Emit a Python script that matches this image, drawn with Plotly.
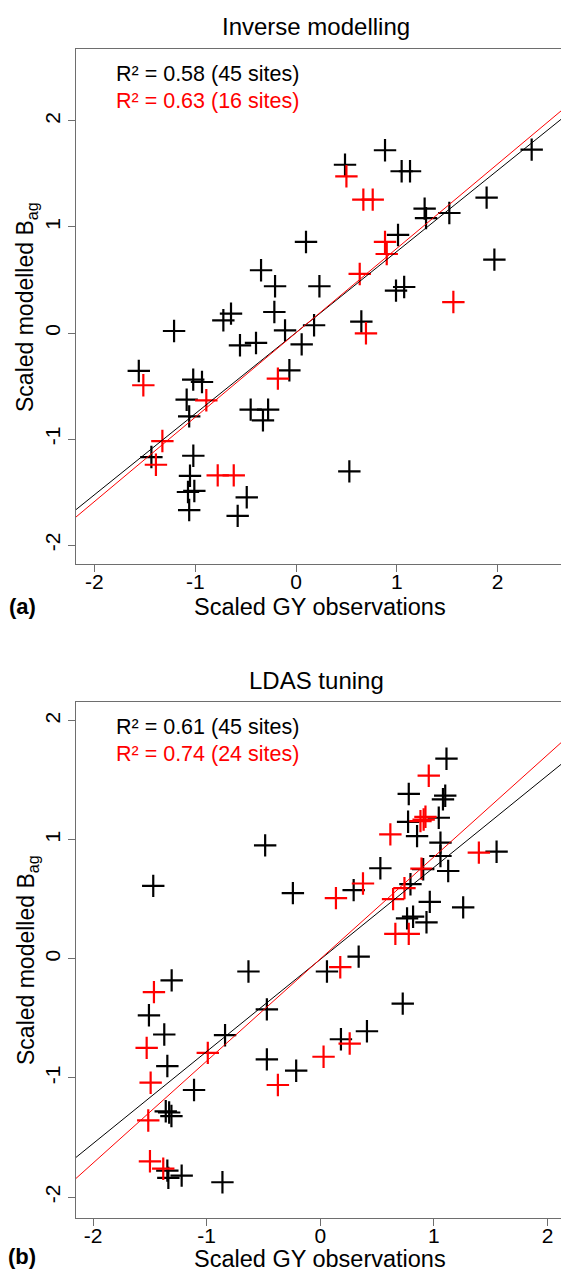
import plotly.graph_objects as go

# ---------------- Panel (a): Inverse modelling ----------------
xa_all = [0.486, 0.883, 1.048, 1.131, 2.338, 1.891, 1.276, 1.290, 1.521, 1.012, 0.099, 1.968,
          -0.347, -0.208, 0.232, 0.992, 1.073, -0.215, -0.645, -0.721, -1.210, -0.109, 0.179, 0.648,
          -0.556, -0.397, 0.056, -1.560, -0.066, -1.020, -0.933, -1.085, -1.060, -0.450, -0.277,
          -0.328, -1.435, -1.019, -1.052, -1.072, -1.009, -1.060, -0.489, -0.579, 0.529]
ya_all = [1.587, 1.724, 1.526, 1.526, 1.730, 1.277, 1.173, 1.084, 1.132, 0.925, 0.859, 0.692,
          0.592, 0.441, 0.441, 0.400, 0.434, 0.198, 0.183, 0.120, 0.019, 0.025, 0.073, 0.108,
          -0.116, -0.094, -0.107, -0.358, -0.352, -0.440, -0.462, -0.629, -0.786, -0.723, -0.723,
          -0.824, -1.170, -1.158, -1.347, -1.500, -1.490, -1.670, -1.550, -1.725, -1.305]
xa_sub = [0.500, 0.668, 0.761, 0.883, 0.900, 0.632, 1.561, 0.694, -1.515, -0.180, -0.890,
          -1.326, -1.390, -0.777, -0.618]
ya_sub = [1.478, 1.258, 1.258, 0.859, 0.745, 0.557, 0.292, -0.003, -0.493, -0.430, -0.635,
          -1.019, -1.243, -1.343, -1.343]
fit_a_all = (0.765, 0.004)   # slope, intercept
fit_a_sub = (0.796, 0.002)
label_a_all = "R² = 0.58 (45 sites)"
label_a_sub = "R² = 0.63 (16 sites)"

# ---------------- Panel (b): LDAS tuning ----------------
xb_all = [1.111, 0.779, 1.080, 1.100, 0.773, 1.043, 0.852, 1.058, 1.058, -0.485, 1.552, 0.529,
          0.906, 1.126, -1.470, 0.794, 0.294, -0.241, 0.964, 1.258, 0.764, 0.817, 0.935, 0.338,
          0.059, -0.632, -1.308, -1.508, -0.470, 0.726, -1.373, -0.838, 0.411, 0.182, -1.346,
          -0.470, -0.212, -1.111, -1.360, -1.330, -1.310, -1.346, -1.337, -1.220, -0.861]
yb_all = [1.681, 1.385, 1.340, 1.370, 1.151, 1.185, 1.031, 0.976, 0.864, 0.953, 0.900, 0.761,
          0.753, 0.738, 0.613, 0.627, 0.577, 0.552, 0.479, 0.432, 0.340, 0.354, 0.307, 0.019,
          -0.106, -0.106, -0.181, -0.474, -0.424, -0.376, -0.635, -0.641, -0.608, -0.675, -0.900,
          -0.844, -0.939, -1.101, -1.280, -1.290, -1.320, -1.778, -1.839, -1.820, -1.876]
xb_sub = [0.955, 0.926, 0.882, 0.910, 0.617, 1.396, 0.891, 0.376, 0.741, 0.138, 0.641, 0.661,
          0.779, 0.176, -1.464, -1.528, -0.990, 0.259, 0.029, -1.493, -0.373, -1.514, -1.499,
          -1.382]
yb_sub = [1.538, 1.193, 1.157, 1.170, 1.045, 0.892, 0.758, 0.633, 0.594, 0.510, 0.502, 0.210,
          0.210, -0.070, -0.279, -0.747, -0.789, -0.711, -0.822, -1.040, -1.059, -1.357, -1.700,
          -1.762]
fit_b_all = (0.773, -0.005)
fit_b_sub = (0.857, -0.001)
label_b_all = "R² = 0.61 (45 sites)"
label_b_sub = "R² = 0.74 (24 sites)"

titles = ["Inverse modelling", "LDAS tuning"]
panel_tags = ["(a)", "(b)"]
xlabel = "Scaled GY observations"
ylabel = "Scaled modelled B<sub>ag</sub>"
tick_vals = [-2, -1, 0, 1, 2]

# ---------------- layout geometry (pixels) ----------------
W, H = 561, 1274
FONT = "Liberation Sans, Arial, sans-serif"
BOXC = "#6e6e6e"

def px(x):
    return x / W

def py(y):
    return 1 - y / H

xrange_a = [-2.183, 2.629]
yrange_a = [-2.179, 2.679]
xrange_b = [-2.150, 2.119]
yrange_b = [-2.176, 2.157]

fig = go.Figure()

def add_panel(xall, yall, xsub, ysub, fit_all, fit_sub, xr, xa, ya):
    fig.add_trace(go.Scatter(
        x=xall, y=yall, mode="markers", xaxis=xa, yaxis=ya, showlegend=False,
        hoverinfo="skip",
        marker=dict(symbol="cross-thin", size=16, color="black",
                    line=dict(color="black", width=2.2))))
    fig.add_trace(go.Scatter(
        x=xsub, y=ysub, mode="markers", xaxis=xa, yaxis=ya, showlegend=False,
        hoverinfo="skip",
        marker=dict(symbol="cross-thin", size=16, color="red",
                    line=dict(color="red", width=2.2))))
    for (s, b), c in ((fit_all, "black"), (fit_sub, "red")):
        fig.add_trace(go.Scatter(
            x=[xr[0], xr[1]], y=[s * xr[0] + b, s * xr[1] + b], mode="lines",
            xaxis=xa, yaxis=ya, showlegend=False, hoverinfo="skip",
            line=dict(color=c, width=1)))

add_panel(xa_all, ya_all, xa_sub, ya_sub, fit_a_all, fit_a_sub, xrange_a, "x", "y")
add_panel(xb_all, yb_all, xb_sub, yb_sub, fit_b_all, fit_b_sub, xrange_b, "x2", "y2")

axis_common = dict(
    showgrid=False, zeroline=False, showline=True, linecolor=BOXC, linewidth=1,
    ticks="outside", ticklen=7, tickcolor=BOXC, tickwidth=1,
    tickvals=tick_vals, ticktext=[str(v) for v in tick_vals],
    tickfont=dict(family=FONT, size=21, color="black"), automargin=False,
)

fig.update_layout(
    width=W, height=H, margin=dict(l=0, r=0, t=0, b=0),
    paper_bgcolor="white", plot_bgcolor="white",
    xaxis=dict(domain=[px(76), 1], range=xrange_a, anchor="y", mirror=True,
               ticklabelstandoff=-8, **axis_common),
    yaxis=dict(domain=[py(564), py(49)], range=yrange_a, anchor="x", tickangle=-90,
               mirror=False, **axis_common),
    xaxis2=dict(domain=[px(76), 1], range=xrange_b, anchor="y2", mirror=True,
                ticklabelstandoff=-8, **axis_common),
    yaxis2=dict(domain=[py(1218), py(702)], range=yrange_b, anchor="x2", tickangle=-90,
                mirror=False, **axis_common),
)

ann = []
def text(x, y, s, size, color="black", xanchor="center", yanchor="middle", angle=0):
    ann.append(dict(x=px(x), y=py(y), xref="paper", yref="paper", text=s, showarrow=False,
                    xanchor=xanchor, yanchor=yanchor, textangle=angle,
                    font=dict(family=FONT, size=size, color=color)))

# panel a texts
text(316, 26, titles[0], 24)
text(320, 607, xlabel, 23.5)
text(27, 307, ylabel, 23, angle=-90)
text(22, 606, "<b>" + panel_tags[0] + "</b>", 22)
text(114, 74, label_a_all, 21.5, xanchor="left")
text(114, 101, label_a_sub, 21.5, color="red", xanchor="left")

# panel b texts
text(316, 680, titles[1], 24)
text(320, 1259, xlabel, 23.5)
text(27, 960, ylabel, 23, angle=-90)
text(22, 1256, "<b>" + panel_tags[1] + "</b>", 22)
text(114, 727, label_b_all, 21.5, xanchor="left")
text(114, 754, label_b_sub, 21.5, color="red", xanchor="left")

fig.update_layout(annotations=ann)
fig.write_html("out.html",
               config={"displayModeBar": False, "staticPlot": True},
               post_script="document.body.style.margin='0px';"
                           "document.body.style.overflow='hidden';")
